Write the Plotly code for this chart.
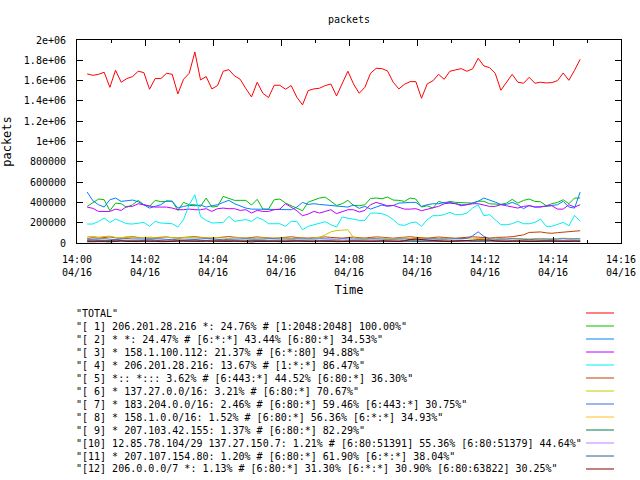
import pandas as pd
import plotly.graph_objects as go

# ---- data (packets, in thousands) ----
start_time = "2009-04-16 14:00:18"
n_points = 88

total = [1666,1652,1662,1682,1534,1702,1584,1620,1639,1692,
         1679,1515,1620,1620,1672,1662,1469,1613,1672,1882,
         1607,1639,1518,1551,1692,1708,1646,1613,1521,1439,
         1584,1475,1433,1554,1554,1515,1551,1436,1361,1502,
         1518,1525,1551,1567,1449,1574,1692,1567,1475,1534,
         1672,1721,1718,1695,1584,1518,1564,1590,1590,1426,
         1567,1597,1662,1613,1692,1705,1718,1692,1715,1820,
         1744,1728,1672,1505,1590,1662,1584,1574,1633,1574,
         1584,1577,1580,1600,1675,1603,1702,1810]

s1 = [361,400,433,426,318,393,387,351,377,420,
      377,361,420,407,407,413,321,400,377,377,
      361,443,354,361,459,436,420,420,420,374,
      430,334,334,426,433,393,367,338,318,403,
      420,443,452,410,370,387,420,370,367,
      377,439,443,436,452,423,420,410,443,433,
      354,367,344,410,393,410,400,400,393,393,
      413,410,387,387,380,393,430,393,420,433,
      410,407,367,387,400,426,387,443,443]

s2 = [502,416,377,354,426,443,410,420,423,407,
      377,344,361,377,416,410,344,361,370,367,
      374,354,367,377,400,420,387,367,344,334,
      334,334,328,328,328,328,328,354,400,380,
      387,380,374,367,361,354,354,374,341,
      361,334,354,374,361,370,393,400,400,400,
      361,377,387,387,400,400,387,377,377,393,
      410,443,426,403,380,380,400,377,338,370,
      354,354,361,370,377,410,354,344,502]

s3 = [354,341,311,311,311,334,321,361,361,387,
      377,361,354,354,354,344,328,328,334,328,
      328,338,311,338,344,338,338,321,328,295,
      321,311,311,328,334,387,354,318,269,285,
      311,295,311,328,289,311,328,328,305,
      321,377,400,387,367,370,354,334,334,338,
      318,334,344,361,387,393,387,367,377,387,
      387,377,361,361,377,367,354,344,361,367,
      354,354,367,367,334,334,377,354,377]

s4 = [187,187,213,246,203,236,213,190,187,197,
      203,164,213,197,197,190,157,230,377,475,
      262,223,197,203,203,262,213,223,230,213,
      252,230,190,190,190,164,213,213,131,164,
      180,197,210,180,157,256,246,230,223,
      223,295,295,289,269,230,180,174,197,207,
      164,230,269,269,279,302,279,279,295,344,
      377,269,279,230,180,180,190,213,190,190,
      203,236,164,164,180,203,170,272,213]

s5 = [45,52,48,55,60,50,47,58,62,55, 50,48,53,57,60,52,49,55,58,62,
      56,50,47,53,59,63,57,52,48,55, 60,54,50,47,52,58,61,55,50,48,
      53,57,60,55,51,48,54,58,52,49, 55,60,57,51,47,53,58,62,56,50,
      48,54,59,55,50,47,52,57,61,58, 53,49,55,60,58,62,70,80,104,110,
      109,100,96,102,108,112,115,121]

s6 = [62,65,58,60,68,55,52,60,57,50, 55,58,52,48,55,50,47,53,56,50,
      48,52,55,50,47,45,50,53,48,45, 50,47,44,48,52,46,43,47,50,45,
      48,55,80,110,122,126,131,52,45,48, 42,46,50,44,41,47,50,45,42,46,
      49,44,41,45,48,43,40,46,49,44, 42,45,48,43,40,45,47,43,41,44,
      46,42,40,44,47,43,45,42]

s7 = [35,40,38,42,36,33,39,44,40,37, 34,38,42,39,35,33,37,41,38,36,
      40,43,39,35,32,36,40,44,41,37, 34,38,42,39,36,33,37,40,38,35,
      39,42,38,34,37,41,39,36,33,37, 40,43,39,35,38,42,40,36,34,38,
      41,39,35,37,40,43,41,45,70,110, 65,40,37,34,38,42,39,35,33,37,
      40,38,35,39,42,38,36,40]

s8 = [28,22,25,30,24,20,26,32,27,23, 21,25,29,24,20,22,27,31,26,22,
      20,24,28,25,21,23,27,30,25,21, 24,28,22,20,25,29,26,22,20,24,
      27,23,21,25,28,24,20,23,27,25, 22,20,24,28,26,22,21,25,29,24,
      21,23,27,25,21,24,28,23,20,22, 26,29,24,21,23,27,25,22,20,24,
      27,23,21,25,28,24,22,26]

s9 = [20,22,18,21,24,19,17,22,25,20, 18,21,23,19,17,20,24,22,18,21,
      23,20,17,19,22,25,21,18,20,23, 21,18,17,21,24,22,19,20,23,21,
      18,20,22,25,21,18,19,22,24,20, 18,21,23,20,17,19,22,24,21,18,
      20,23,21,18,19,22,25,22,19,21, 23,20,18,21,24,22,19,20,23,21,
      18,20,22,24,21,19,22,20]

s10 = [15,18,22,17,14,19,23,18,15,17, 21,19,16,14,18,22,20,16,15,19,
       23,18,15,17,20,22,18,15,16,20, 23,19,16,15,18,21,19,16,17,20,
       22,18,15,17,21,19,16,15,18,22, 20,17,15,19,23,19,16,17,20,22,
       18,15,17,21,19,16,15,18,22,20, 17,15,19,22,18,16,17,20,23,19,
       16,15,18,21,19,17,16,20]

s11 = [22,18,25,20,16,28,24,19,17,21, 26,30,27,22,18,20,24,29,33,30,
       25,21,18,22,26,23,19,17,20,24, 28,25,21,18,16,19,23,20,17,15,
       18,22,20,16,14,17,21,19,16,14, 17,20,18,15,13,16,19,17,14,16,
       19,22,18,15,17,20,24,21,17,15, 18,21,19,16,14,17,20,18,15,17,
       19,16,14,17,20,18,16,19]

s12 = [12,15,18,14,11,16,20,15,12,14, 17,20,16,13,11,15,19,17,13,12,
       16,20,18,14,12,15,19,16,13,11, 15,18,21,17,13,12,16,19,15,12,
       14,18,20,16,13,12,15,19,17,14, 12,16,20,18,14,15,22,35,38,36,
       30,25,20,17,15,19,22,18,28,32, 34,30,20,16,14,18,21,17,14,13,
       16,19,17,14,12,15,18,16]

series_names = [
    '"TOTAL"',
    '"[ 1] 206.201.28.216 *: 24.76% # [1:2048:2048] 100.00%"',
    '"[ 2] * *: 24.47% # [6:*:*] 43.44% [6:80:*] 34.53%"',
    '"[ 3] * 158.1.100.112: 21.37% # [6:*:80] 94.88%"',
    '"[ 4] * 206.201.28.216: 13.67% # [1:*:*] 86.47%"',
    '"[ 5] *:: *::: 3.62% # [6:443:*] 44.52% [6:80:*] 36.30%"',
    '"[ 6] * 137.27.0.0/16: 3.21% # [6:80:*] 70.67%"',
    '"[ 7] * 183.204.0.0/16: 2.46% # [6:80:*] 59.46% [6:443:*] 30.75%"',
    '"[ 8] * 158.1.0.0/16: 1.52% # [6:80:*] 56.36% [6:*:*] 34.93%"',
    '"[ 9] * 207.103.42.155: 1.37% # [6:80:*] 82.29%"',
    '"[10] 12.85.78.104/29 137.27.150.7: 1.21% # [6:80:51391] 55.36% [6:80:51379] 44.64%"',
    '"[11] * 207.107.154.80: 1.20% # [6:80:*] 61.90% [6:*:*] 38.04%"',
    '"[12] 206.0.0.0/7 *: 1.13% # [6:80:*] 31.30% [6:*:*] 30.90% [6:80:63822] 30.25%"',
]
series_values = [total, s1, s2, s3, s4, s5, s6, s7, s8, s9, s10, s11, s12]
series_colors = ["#ff0000", "#00c000", "#0080ff", "#c000ff", "#00eeee", "#c04000",
                 "#c8c800", "#4169e1", "#ffc020", "#008040", "#c080ff", "#306080", "#8b0000"]

y_tick_vals = [0, 200000, 400000, 600000, 800000, 1000000, 1200000,
               1400000, 1600000, 1800000, 2000000]
y_tick_text = ["0", "200000", "400000", "600000", "800000", "1e+06", "1.2e+06",
               "1.4e+06", "1.6e+06", "1.8e+06", "2e+06"]
x_tick_times = ["14:00", "14:02", "14:04", "14:06", "14:08", "14:10", "14:12", "14:14", "14:16"]
x_date = "04/16"

# ---- figure ----
times = pd.date_range(start_time, periods=n_points, freq="10s")
FONT = "DejaVu Sans Mono"

fig = go.Figure()
for name, vals, col in zip(series_names, series_values, series_colors):
    fig.add_trace(go.Scatter(x=times, y=[v * 1000 for v in vals], mode="lines",
                             name=name, line=dict(color=col, width=1),
                             showlegend=False))

day = "2009-04-16 "
xt_vals = [day + t for t in x_tick_times]
xt_text = [t + "<br>" + x_date for t in x_tick_times]
minor_vals = [day + "14:%02d" % m for m in range(0, 17)]

W, H = 640, 480
fig.update_layout(
    width=W, height=H,
    margin=dict(l=77, r=19, t=40, b=H - 40 - 203),
    paper_bgcolor="white", plot_bgcolor="white",
    font=dict(family=FONT, size=10, color="black"),
    title=dict(text="packets", x=0.5, xref="paper", y=1 - 19 / H,
               yref="container", yanchor="middle",
               font=dict(family=FONT, size=10, color="black")),
)
fig.update_xaxes(
    type="date", range=[day + "14:00", day + "14:16"], automargin=False,
    tickmode="array", tickvals=xt_vals, ticktext=xt_text,
    ticks="inside", ticklen=6, tickcolor="black",
    minor=dict(tickmode="array", tickvals=minor_vals, ticks="inside", ticklen=3, tickcolor="black"),
    showline=True, linecolor="black", linewidth=1, mirror="ticks",
    showgrid=False, zeroline=False, ticklabelstandoff=7,
    title=dict(text="Time", standoff=8),
)
fig.update_yaxes(
    range=[0, 2000000], automargin=False,
    tickmode="array", tickvals=y_tick_vals, ticktext=y_tick_text,
    ticks="inside", ticklen=6, tickcolor="black",
    showline=True, linecolor="black", linewidth=1, mirror="ticks",
    showgrid=False, zeroline=False, ticklabelstandoff=8,
    title=dict(text="packets", standoff=10),
)

# legend entries below the plot (text left, line sample right)
plot_w, plot_h = 544.0, 203.0
for i, (name, col) in enumerate(zip(series_names, series_colors)):
    py = 313 + 13 * i
    yp = (243 - py) / plot_h
    fig.add_annotation(text=name, xref="paper", yref="paper", x=-3 / plot_w, y=yp,
                       xanchor="left", yanchor="middle", showarrow=False,
                       font=dict(family=FONT, size=10, color="black"))
    fig.add_shape(type="line", xref="paper", yref="paper",
                  x0=(586 - 77) / plot_w, x1=(614 - 77) / plot_w, y0=yp, y1=yp,
                  line=dict(color=col, width=1))

# remove the default 8px page margin so the 640x480 figure fills the window
fig.write_html("out.html", config={"displayModeBar": False},
               post_script="document.body.style.margin='0';")
